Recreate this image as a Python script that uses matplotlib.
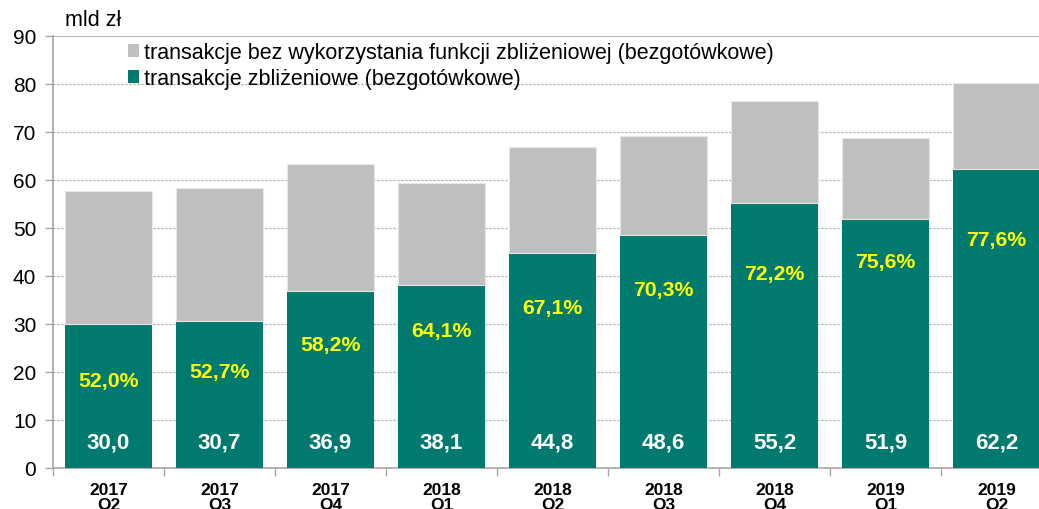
import matplotlib
matplotlib.use("Agg")
import matplotlib.pyplot as plt
from matplotlib.patches import Patch

categories = ["2017\nQ2", "2017\nQ3", "2017\nQ4", "2018\nQ1", "2018\nQ2",
              "2018\nQ3", "2018\nQ4", "2019\nQ1", "2019\nQ2"]
contactless = [30.0, 30.7, 36.9, 38.1, 44.8, 48.6, 55.2, 51.9, 62.2]
other = [27.7, 27.6, 26.5, 21.3, 22.0, 20.5, 21.2, 16.8, 18.0]
share_labels = ["52,0%", "52,7%", "58,2%", "64,1%", "67,1%", "70,3%", "72,2%", "75,6%", "77,6%"]
share_label_y = [18.3, 20.2, 25.8, 28.7, 33.5, 37.1, 40.6, 43.1, 47.7]
value_label_y = 5.4
legend_labels = ["transakcje bez wykorzystania funkcji zbliżeniowej (bezgotówkowe)",
                 "transakcje zbliżeniowe (bezgotówkowe)"]

TEAL = "#007A6E"
GREY = "#BFBFBF"
AXIS = "#A6A6A6"

plt.rcParams['font.family'] = ['Liberation Sans', 'DejaVu Sans']

fig = plt.figure(figsize=(10.39, 5.10), dpi=100)
ax = fig.add_axes([53/1039, 41/510, 999/1039, 432/510])

x = list(range(len(categories)))
w = 0.79
ax.bar(x, contactless, width=w, color=TEAL, zorder=3)
ax.bar(x, other, width=w, bottom=contactless, color=GREY, zorder=3,
       edgecolor="#E6E6E6", linewidth=0.8)

for xi, v, s, sy in zip(x, contactless, share_labels, share_label_y):
    ax.text(xi, value_label_y, f"{v:.1f}".replace(".", ","), ha="center", va="center",
            color="white", fontsize=16, fontweight="bold", zorder=4)
    ax.text(xi, sy, s, ha="center", va="center", color="#FFFF00",
            fontsize=15.3, fontweight="bold", zorder=4)

ax.set_xlim(-0.5, len(categories) - 0.5)
ax.set_ylim(0, 90)
ax.set_yticks(range(0, 91, 10))
ax.tick_params(axis="y", labelsize=15, length=6, color=AXIS, width=1, pad=6)
ax.set_xticks(x)
ax.set_xticklabels(categories, fontsize=12.5, fontweight="bold", linespacing=1.0)
ax.tick_params(axis="x", length=0, pad=10)
ax.set_xticks([i + 0.5 for i in range(-1, len(categories))], minor=True)
ax.tick_params(axis="x", which="minor", length=6, color=AXIS, width=1)

for yv in range(10, 90, 10):
    ax.axhline(yv, color="#A6A6A6", linestyle=(0, (1.6, 1.6)), linewidth=0.9, zorder=1)
ax.axhline(90, color=AXIS, linewidth=1.2, zorder=1)

for side in ["top", "right"]:
    ax.spines[side].set_visible(False)
ax.spines["left"].set_color(AXIS)
ax.spines["bottom"].set_color(AXIS)
ax.spines["left"].set_linewidth(1.2)
ax.spines["bottom"].set_linewidth(1.2)

handles = [Patch(facecolor=GREY), Patch(facecolor=TEAL)]
leg = ax.legend(handles, legend_labels, loc="upper left", bbox_to_anchor=(0.066, 1.005),
                frameon=False, fontsize=15.5, handlelength=0.55, handleheight=0.55,
                handletextpad=0.2, labelspacing=0.22, borderaxespad=0.0)

fig.text(65/1039, 1 - 20/510, "mld zł", fontsize=15.5, va="center", ha="left")

fig.savefig("out.png", dpi=100)
